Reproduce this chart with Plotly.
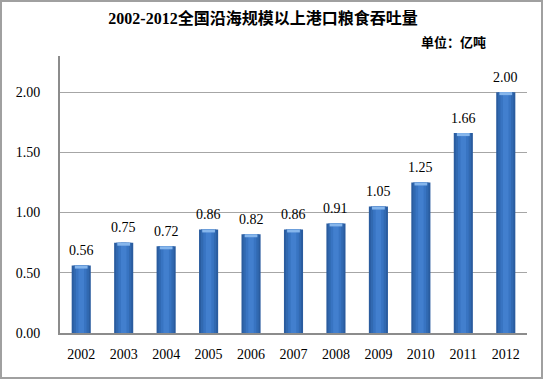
import plotly.graph_objects as go

years = ["2002", "2003", "2004", "2005", "2006", "2007", "2008", "2009", "2010", "2011", "2012"]
values = [0.56, 0.75, 0.72, 0.86, 0.82, 0.86, 0.91, 1.05, 1.25, 1.66, 2.00]
labels = ["0.56", "0.75", "0.72", "0.86", "0.82", "0.86", "0.91", "1.05", "1.25", "1.66", "2.00"]

SERIF = "Liberation Serif, Times New Roman, serif"

fig = go.Figure()
# layered bars to mimic cylinder shading
layers = [(0.45, "#2a5c9f"), (0.36, "#3169b1"), (0.25, "#3874c2"), (0.13, "#427fce")]
for w, c in layers:
    fig.add_trace(go.Bar(
        x=years, y=values, width=w, marker=dict(color=c, line=dict(width=0)),
        hoverinfo="skip", showlegend=False,
    ))
# light cap at the top of each bar
fig.add_trace(go.Bar(
    x=years, y=[0.025] * len(values), base=[v - 0.025 for v in values], width=0.3,
    marker=dict(color="#86b6ec", line=dict(width=0)), hoverinfo="skip", showlegend=False,
))
# value labels (category index positions on the x axis)
for i, (v, lab) in enumerate(zip(values, labels)):
    fig.add_annotation(x=i, y=v, xref="x", yref="y", text=lab, showarrow=False,
                       yanchor="middle", yshift=15,
                       font=dict(family=SERIF, size=14, color="#000"))

fig.update_layout(
    width=544, height=381, barmode="overlay",
    margin=dict(l=60, r=17, t=56, b=48, pad=0),
    paper_bgcolor="white", plot_bgcolor="white",
    title=dict(text="<b>2002-2012全国沿海规模以上港口粮食吞吐量</b>", x=(263 - 60) / 467,
               xanchor="center", xref="paper",
               y=1 - 18 / 381, yanchor="middle", automargin=False,
               font=dict(family="Liberation Serif, Noto Sans CJK SC", size=16, color="#000")),
    xaxis=dict(type="category", range=[-0.5, len(years) - 0.5], showgrid=False, showline=True,
               linecolor="#8c8c8c", linewidth=2,
               ticks="", automargin=False, ticklabelstandoff=7,
               tickfont=dict(family=SERIF, size=14, color="#000")),
    yaxis=dict(range=[0, 2.3], dtick=0.5, tick0=0, tickformat=".2f", showgrid=True,
               gridcolor="#a6a6a6", gridwidth=1, showline=True, linecolor="#8c8c8c",
               linewidth=2, ticks="", ticklabelstandoff=15, zeroline=False, automargin=False,
               tickfont=dict(family=SERIF, size=14, color="#000")),
    font=dict(family=SERIF),
)
fig.add_annotation(text="<b>单位：亿吨</b>", xref="paper", yref="paper",
                   x=(488 - 60) / 467, y=(333 - 42) / 277, xanchor="right", yanchor="middle",
                   showarrow=False, font=dict(family="Noto Sans CJK SC", size=13, color="#000"))
fig.add_shape(type="rect", xref="paper", yref="paper",
              x0=(1 - 60) / 467, x1=(542 - 60) / 467, y0=(333 - 378) / 277, y1=(333 - 1) / 277,
              line=dict(color="#a0a0a0", width=2), layer="below")
fig.write_html("out.html", config={"displayModeBar": False},
               post_script="document.body.style.margin='0';document.body.style.overflow='hidden';")
